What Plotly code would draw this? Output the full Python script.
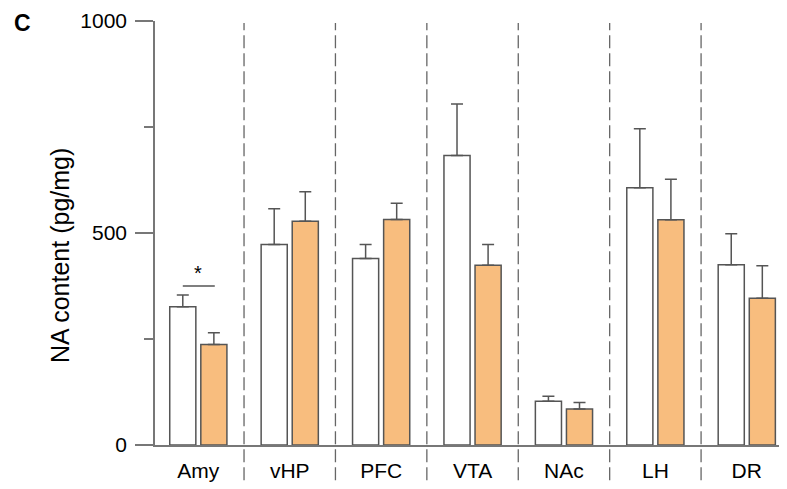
import plotly.graph_objects as go

# brain regions and NA content (pg/mg), mean + SEM
regions = ["Amy", "vHP", "PFC", "VTA", "NAc", "LH", "DR"]
control = [326, 473, 440, 683, 103, 607, 425]
control_sem = [28, 84, 33, 121, 12, 139, 73]
treated = [237, 528, 532, 424, 85, 531, 346]
treated_sem = [28, 69, 38, 49, 15, 96, 77]

y_ticks = [0, 500, 1000]

font = "Liberation Sans, Arial, sans-serif"
edge = "#555555"
orange = "rgb(248,189,126)"

fig = go.Figure()

fig.add_trace(go.Bar(
    x=regions, y=control, name="control",
    marker=dict(color="white", line=dict(color=edge, width=1.5)),
    error_y=dict(type="data", array=control_sem, arrayminus=[0] * len(regions),
                 symmetric=False, color=edge, thickness=1.5, width=6),
))
fig.add_trace(go.Bar(
    x=regions, y=treated, name="treated",
    marker=dict(color=orange, line=dict(color=edge, width=1.5)),
    error_y=dict(type="data", array=treated_sem, arrayminus=[0] * len(regions),
                 symmetric=False, color=edge, thickness=1.5, width=6),
))

# dashed separators between regions
for i in range(len(regions) - 1):
    fig.add_shape(type="line", xref="x", yref="paper",
                  x0=i + 0.5, x1=i + 0.5, y0=-0.083, y1=0.995,
                  line=dict(color="#666666", width=1.3, dash="13px,5px"))

# significance mark for Amy
fig.add_shape(type="line", xref="x", yref="y", x0=-0.17, x1=0.18, y0=375, y1=375,
              line=dict(color=edge, width=1.5))
fig.add_annotation(x=0.0, y=405, xref="x", yref="y", text="*", showarrow=False,
                   font=dict(family=font, size=20, color="black"))

# panel letter and y title
fig.add_annotation(x=-0.21, y=1.0307, xref="paper", yref="paper", text="<b>C</b>",
                   showarrow=False, xanchor="center", yanchor="top",
                   font=dict(family=font, size=23, color="black"))
fig.add_annotation(x=-0.150, y=0.446, xref="paper", yref="paper",
                   text="NA content (pg/mg)", textangle=-90, showarrow=False,
                   xanchor="center", yanchor="middle",
                   font=dict(family=font, size=25, color="black"))

# page body adds an 8px offset, so the figure is drawn 8px smaller/shifted
fig.update_layout(
    width=779, height=481,
    margin=dict(l=147, r=0, t=13, b=44),
    paper_bgcolor="white", plot_bgcolor="white",
    barmode="group", bargap=0.32, bargroupgap=0.16,
    showlegend=False,
    font=dict(family=font, size=21, color="black"),
)
fig.update_xaxes(range=[-0.474, 6.44], showline=True, linecolor="#777777", linewidth=1.5,
                 ticks="", showgrid=False, zeroline=False, ticklabelstandoff=6,
                 tickfont=dict(size=21, color="black"))
fig.update_yaxes(range=[0, 1000], showline=True, linecolor="#777777", linewidth=1.5,
                 tickvals=y_ticks, ticks="outside", ticklen=18, tickwidth=1.5,
                 tickcolor="#777777", showgrid=False, zeroline=False,
                 ticklabelstandoff=4,
                 minor=dict(tickvals=[250, 750], ticks="outside", ticklen=9,
                            tickwidth=1.5, tickcolor="#777777", showgrid=False),
                 tickfont=dict(size=21, color="black"))

fig.write_html("out.html")
